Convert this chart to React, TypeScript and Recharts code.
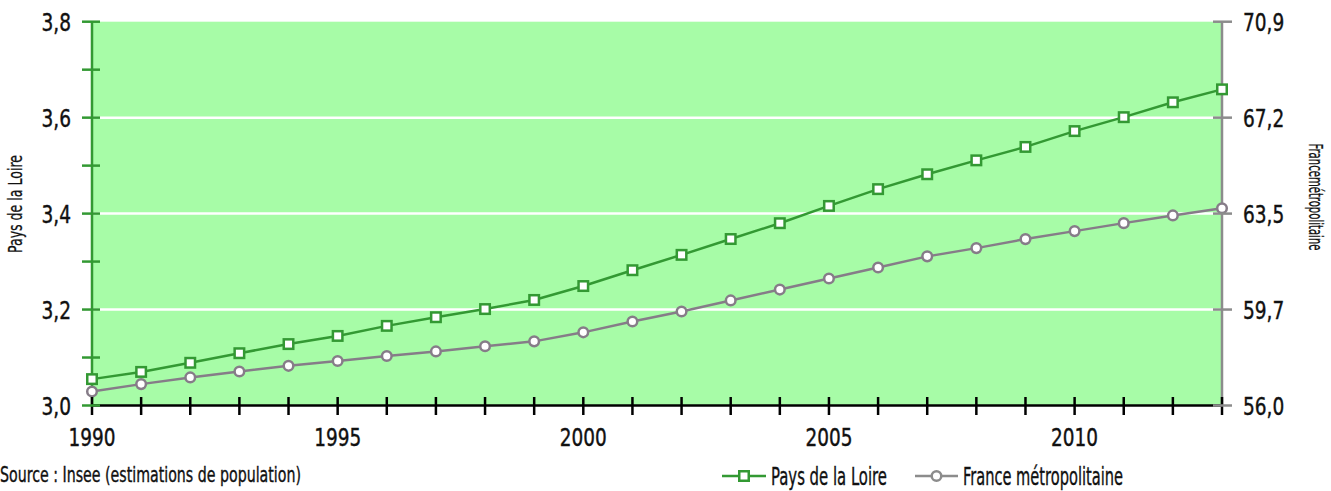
import { LineChart, Line, XAxis, YAxis, CartesianGrid } from "recharts";

const years = [
  1990, 1991, 1992, 1993, 1994, 1995, 1996, 1997, 1998, 1999, 2000, 2001,
  2002, 2003, 2004, 2005, 2006, 2007, 2008, 2009, 2010, 2011, 2012, 2013,
];
// millions d'habitants
const paysDeLaLoire = [
  3.055, 3.07, 3.089, 3.109, 3.128, 3.145, 3.166, 3.184, 3.201, 3.22, 3.249,
  3.282, 3.314, 3.347, 3.38, 3.416, 3.451, 3.482, 3.511, 3.539, 3.572, 3.601,
  3.632, 3.659,
];
const franceMetro = [
  56.54, 56.83, 57.09, 57.32, 57.54, 57.73, 57.92, 58.1, 58.3, 58.49, 58.84,
  59.26, 59.65, 60.08, 60.5, 60.93, 61.36, 61.79, 62.11, 62.46, 62.77, 63.08,
  63.38, 63.66,
];

const leftTicks = [3.0, 3.1, 3.2, 3.3, 3.4, 3.5, 3.6, 3.7, 3.8];
const gridValues = [3.2, 3.4, 3.6];
const rightTicks = [56.0, 59.725, 63.45, 67.175, 70.9];
const rightTickLabels = ["56,0", "59,7", "63,5", "67,2", "70,9"];
const labelledYears = [1990, 1995, 2000, 2005, 2010];

const seriesNames = ["Pays de la Loire", "France métropolitaine"];

const data = years.map((year, i) => ({
  year,
  pdl: paysDeLaLoire[i],
  france: franceMetro[i],
}));

const GREEN = "#339933";
const BG = "#a7fca7";
const GRAY_AXIS = "#8c8c8c";
const GRAY_LINE = "#867c88";
const INK = "#111";
const FONT = '"DejaVu Sans Condensed", "DejaVu Sans", sans-serif';
const W = 1331;
const H = 491;

// the original font is a narrow grotesque: squeeze labels to its widths
const numWidth = (s: string) =>
  s.split("").reduce((w, c) => w + (c === "," ? 6 : 11.75), 0);

const NumText = ({ x, y, anchor, label }: any) => (
  <text
    x={x}
    y={y}
    textAnchor={anchor}
    fontSize={24.5}
    fontFamily={FONT}
    fill={INK}
    stroke={INK}
    strokeWidth={0.4}
    textLength={numWidth(label)}
    lengthAdjust="spacingAndGlyphs"
  >
    {label}
  </text>
);

const LeftTick = (props: any) => {
  const { x, y, payload } = props;
  const v = payload.value as number;
  const major = Math.round(v * 10) % 2 === 0;
  return (
    <g>
      <line x1={x + 11} x2={x + 29} y1={y} y2={y} stroke={GREEN} strokeWidth={2.5} />
      {major && <NumText x={x} y={y + 9} anchor="end" label={v.toFixed(1).replace(".", ",")} />}
    </g>
  );
};

const RightTick = (props: any) => {
  const { x, y, index } = props;
  return (
    <g>
      <line x1={x - 30} x2={x - 11} y1={y} y2={y} stroke={GRAY_AXIS} strokeWidth={2.5} />
      <NumText x={x} y={y + 9} anchor="start" label={rightTickLabels[index]} />
    </g>
  );
};

const XTick = (props: any) => {
  const { x, y, payload } = props;
  const v = payload.value as number;
  return (
    <g>
      <line x1={x} x2={x} y1={y - 8.5} y2={y + 9.5} stroke="#000" strokeWidth={2.5} />
      {labelledYears.includes(v) && <NumText x={x} y={y + 40.5} anchor="middle" label={String(v)} />}
    </g>
  );
};

const SquareDot = (props: any) => {
  const { cx, cy, index } = props;
  return (
    <rect
      key={`sq-${index}`}
      x={cx - 4.75}
      y={cy - 4.75}
      width={9.5}
      height={9.5}
      fill="#fff"
      stroke={GREEN}
      strokeWidth={2.5}
    />
  );
};

export default function App() {
  return (
    <div style={{ position: "relative", width: W, height: H, background: "#fff" }}>
      <style>{`body{margin:0}`}</style>
      <LineChart
        width={W}
        height={H}
        data={data}
        margin={{ top: 21.7, right: 0, bottom: 45.5, left: 0 }}
      >
        <CartesianGrid
          xAxisId={0}
          yAxisId="left"
          fill={BG}
          fillOpacity={1}
          vertical={false}
          horizontalValues={gridValues}
          stroke="#fff"
          strokeWidth={2.5}
        />
        <XAxis
          dataKey="year"
          type="number"
          domain={[1990, 2013]}
          ticks={years}
          interval={0}
          height={40}
          tickSize={0}
          tickMargin={0}
          tickLine={false}
          axisLine={{ stroke: "#000", strokeWidth: 2.5 }}
          tick={(p: any) => <XTick {...p} />}
        />
        <YAxis
          yAxisId="left"
          orientation="left"
          type="number"
          width={92}
          domain={[3.0, 3.8]}
          ticks={leftTicks}
          interval={0}
          tickSize={0}
          tickMargin={21}
          tickLine={false}
          axisLine={{ stroke: GREEN, strokeWidth: 2.5 }}
          tick={(p: any) => <LeftTick {...p} />}
        />
        <YAxis
          yAxisId="right"
          orientation="right"
          type="number"
          width={109}
          domain={[56.0, 70.9]}
          ticks={rightTicks}
          interval={0}
          tickSize={0}
          tickMargin={21}
          tickLine={false}
          axisLine={{ stroke: GRAY_AXIS, strokeWidth: 2.5 }}
          tick={(p: any) => <RightTick {...p} />}
        />
        <Line
          yAxisId="right"
          dataKey="france"
          name={seriesNames[1]}
          stroke={GRAY_LINE}
          strokeWidth={2.5}
          dot={{ r: 4.8, fill: "#fff", stroke: GRAY_LINE, strokeWidth: 2.5 }}
          isAnimationActive={false}
        />
        <Line
          yAxisId="left"
          dataKey="pdl"
          name={seriesNames[0]}
          stroke={GREEN}
          strokeWidth={2.5}
          dot={(p: any) => <SquareDot {...p} />}
          isAnimationActive={false}
        />
      </LineChart>
      <svg
        width={W}
        height={H}
        style={{ position: "absolute", left: 0, top: 0, pointerEvents: "none" }}
        fontFamily={FONT}
        fill={INK}
      >
        <text
          transform="translate(22,204) rotate(-90)"
          textAnchor="middle"
          fontSize={19}
          stroke={INK}
          strokeWidth={0.25}
          textLength={98}
          lengthAdjust="spacingAndGlyphs"
        >
          {seriesNames[0]}
        </text>
        <text
          transform="translate(1309,197) rotate(90)"
          textAnchor="middle"
          fontSize={19}
          stroke={INK}
          strokeWidth={0.25}
          textLength={107}
          lengthAdjust="spacingAndGlyphs"
        >
          Francemétropolitaine
        </text>
        <g stroke={INK} strokeWidth={0.35}>
          <text x={0} y={482} fontSize={20.5} textLength={301} lengthAdjust="spacingAndGlyphs">
            Source : Insee (estimations de population)
          </text>
          <text x={771} y={485} fontSize={24.5} textLength={116} lengthAdjust="spacingAndGlyphs">
            {seriesNames[0]}
          </text>
          <text x={963} y={485} fontSize={24.5} textLength={160} lengthAdjust="spacingAndGlyphs">
            {seriesNames[1]}
          </text>
        </g>
        <line x1={722} x2={766} y1={476} y2={476} stroke={GREEN} strokeWidth={2.5} />
        <rect x={739.25} y={471.25} width={9.5} height={9.5} fill="#fff" stroke={GREEN} strokeWidth={2.5} />
        <line x1={915} x2={958} y1={476} y2={476} stroke={GRAY_AXIS} strokeWidth={2.5} />
        <circle cx={936.5} cy={476} r={4.8} fill="#fff" stroke={GRAY_AXIS} strokeWidth={2.5} />
      </svg>
    </div>
  );
}
